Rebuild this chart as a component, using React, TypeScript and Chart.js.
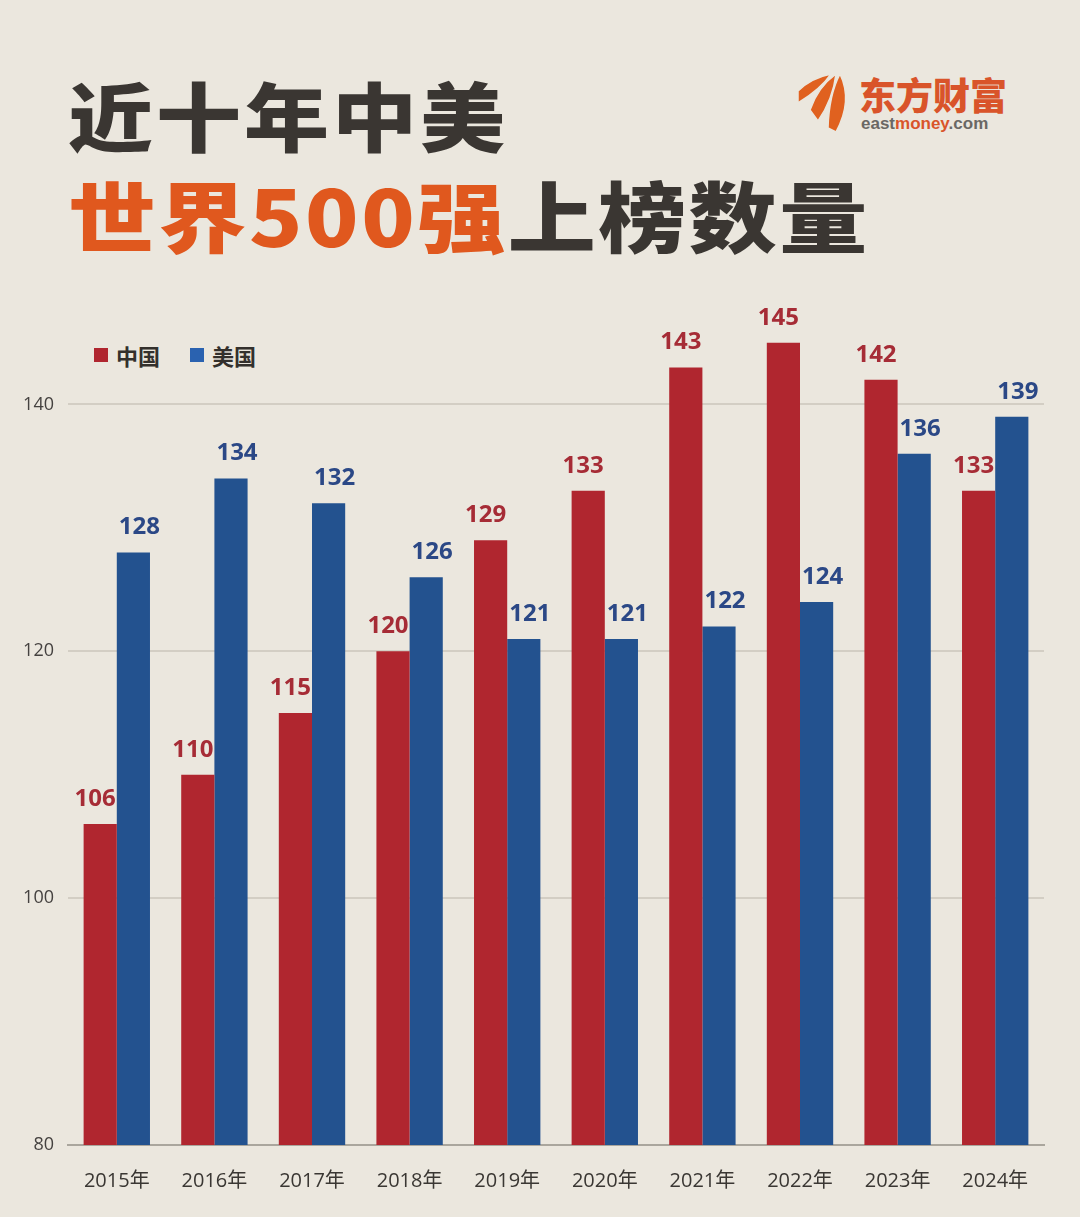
import React, { useEffect, useRef } from "react";
import { Chart, registerables } from "chart.js";

Chart.register(...registerables);

const categories = ["2015年", "2016年", "2017年", "2018年", "2019年", "2020年", "2021年", "2022年", "2023年", "2024年"];
const chinaValues = [106, 110, 115, 120, 129, 133, 143, 145, 142, 133];
const usValues = [128, 134, 132, 126, 121, 121, 122, 124, 136, 139];
const seriesNames = ["中国", "美国"];
const yMin = 80;
const yMax = 150;
const yStep = 20;

const RED = "#b0262f";
const BLUE = "#23528f";
const RED_LABEL = "#a62c36";
const BLUE_LABEL = "#2b4886";
const BG = "#ebe7de";

const valueLabels = {
  id: "valueLabels",
  afterDatasetsDraw(chart: any) {
    const ctx = chart.ctx;
    ctx.save();
    ctx.font = "bold 24px 'Open Sans', 'Noto Sans', sans-serif";
    ctx.textAlign = "center";
    ctx.textBaseline = "middle";
    chart.data.datasets.forEach((ds: any, di: number) => {
      const meta = chart.getDatasetMeta(di);
      ctx.fillStyle = di === 0 ? RED_LABEL : BLUE_LABEL;
      const dx = di === 0 ? -5 : 6;
      meta.data.forEach((el: any, i: number) => {
        ctx.fillText(String(ds.data[i]), el.x + dx, el.y - 25);
      });
    });
    ctx.restore();
  },
};

function ChartCanvas() {
  const ref = useRef<HTMLCanvasElement | null>(null);
  useEffect(() => {
    if (!ref.current) return;
    const chart = new Chart(ref.current, {
      type: "bar",
      data: {
        labels: categories,
        datasets: [
          { label: seriesNames[0], data: chinaValues, backgroundColor: RED, categoryPercentage: 0.68, barPercentage: 1.0 },
          { label: seriesNames[1], data: usValues, backgroundColor: BLUE, categoryPercentage: 0.68, barPercentage: 1.0 },
        ],
      },
      options: {
        responsive: false,
        maintainAspectRatio: false,
        animation: false,
        layout: { padding: { top: 21, right: 36, bottom: 0, left: 0 } },
        plugins: {
          legend: { display: false },
          tooltip: { enabled: false },
          title: { display: false },
        },
        scales: {
          x: {
            grid: { display: false, drawTicks: false },
            border: { display: true, color: "#aaa69d", width: 2 },
            ticks: {
              color: "#3a3733",
              font: { family: "'Open Sans', 'Noto Sans CJK SC', sans-serif", size: 20 },
              padding: 24,
              maxRotation: 0,
            },
            afterFit(scale: any) {
              scale.height = 72;
            },
          },
          y: {
            min: yMin,
            max: yMax,
            grid: { color: "#d3cec4", lineWidth: 2, drawTicks: false },
            border: { display: false },
            ticks: {
              stepSize: yStep,
              color: "#454240",
              font: { family: "'Open Sans', 'Noto Sans', sans-serif", size: 18 },
              padding: 14,
            },
            afterBuildTicks(scale: any) {
              scale.ticks = scale.ticks.filter((t: any) => (t.value - yMin) % yStep === 0);
            },
            afterFit(scale: any) {
              scale.width = 68;
              scale.paddingTop = 0;
              scale.paddingBottom = 0;
            },
          },
        },
      },
      plugins: [valueLabels],
    });
    return () => chart.destroy();
  }, []);
  return <canvas ref={ref} width={1080} height={957} style={{ position: "absolute", left: 0, top: 260, width: 1080, height: 957 }} />;
}

export default function App() {
  useEffect(() => {
    document.body.style.margin = "0";
  }, []);
  const cjk = "'Noto Sans CJK SC', 'Noto Sans', sans-serif";
  return (
    <div style={{ position: "relative", width: 1080, height: 1217, background: BG, overflow: "hidden" }}>
      <div style={{ position: "absolute", left: 68, top: 76, fontFamily: cjk, fontWeight: 900, fontSize: 85, lineHeight: "85px", letterSpacing: 3, color: "#3a3632", whiteSpace: "nowrap", transform: "scaleY(0.88)", transformOrigin: "0 0" }}>
        近十年中美
      </div>
      <div style={{ position: "absolute", left: 68, top: 175, fontFamily: cjk, fontWeight: 900, fontSize: 88, lineHeight: "88px", letterSpacing: 2.5, color: "#3a3632", whiteSpace: "nowrap", transform: "scaleY(0.88)", transformOrigin: "0 0" }}>
        <span style={{ color: "#e0581e" }}>世界500强</span>上榜数量
      </div>
      {/* logo */}
      <svg style={{ position: "absolute", left: 785, top: 65 }} width={80} height={80} viewBox="0 0 80 80">
        <path d="M13 26 Q26 13 46 9 Q36 24 13 38 Z" fill="#e0611f" stroke={BG} strokeWidth={1.5} />
        <path d="M25 45 Q33 22 51 9 Q48 34 33 56 Z" fill="#e0611f" stroke={BG} strokeWidth={1.5} />
        <path d="M43 63 Q44 30 55 9 Q68 36 51 67 Z" fill="#e0611f" stroke={BG} strokeWidth={1.5} />
      </svg>
      <div style={{ position: "absolute", left: 859, top: 72, fontFamily: cjk, fontWeight: 900, fontSize: 37, lineHeight: "44px", color: "#d9542a", whiteSpace: "nowrap", letterSpacing: 0 }}>
        东方财富
      </div>
      <div style={{ position: "absolute", left: 861, top: 114, fontFamily: "'Liberation Sans', Arial, sans-serif", fontWeight: 700, fontSize: 17, lineHeight: "20px", whiteSpace: "nowrap" }}>
        <span style={{ color: "#6a6864" }}>east</span>
        <span style={{ color: "#d9542a" }}>money</span>
        <span style={{ color: "#6a6864" }}>.com</span>
      </div>
      {/* legend */}
      <div style={{ position: "absolute", left: 94, top: 341, display: "flex", alignItems: "center", fontFamily: cjk, fontWeight: 700, fontSize: 22, lineHeight: "28px", color: "#33302c" }}>
        <span style={{ display: "inline-block", width: 14, height: 14, background: RED, marginRight: 8 }} />
        <span>{seriesNames[0]}</span>
        <span style={{ display: "inline-block", width: 14, height: 14, background: "#2a62b0", marginLeft: 30, marginRight: 8 }} />
        <span>{seriesNames[1]}</span>
      </div>
      <ChartCanvas />
    </div>
  );
}
